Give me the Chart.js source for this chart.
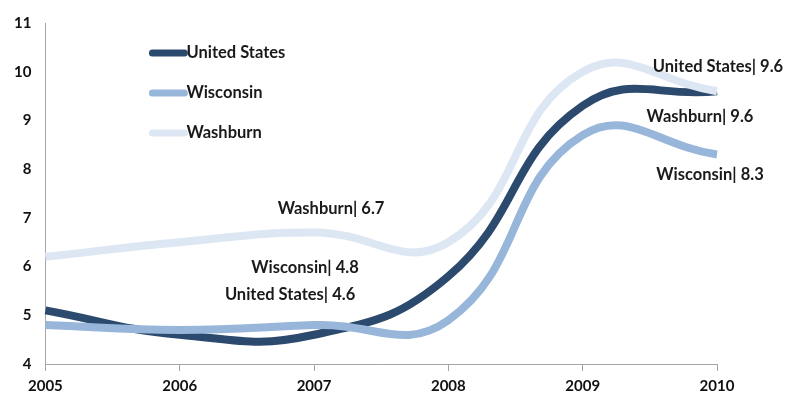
<!DOCTYPE html>
<html>
<head>
<meta charset="utf-8">
<script src="https://cdn.jsdelivr.net/npm/chart.js@4.4.1/dist/chart.umd.min.js"></script>
<style>
    html, body { margin: 0; padding: 0; background: #fff; }
    #wrap { width: 787px; height: 401px; }
</style>
</head>
<body>
<div id="wrap"><canvas id="unemploymentChart"></canvas></div>
<script>
// unemployment rate, 2005-2010
const years = ['2005', '2006', '2007', '2008', '2009', '2010'];
const seriesNames = ['United States', 'Wisconsin', 'Washburn'];
const unitedStates = [5.1, 4.6, 4.6, 5.8, 9.3, 9.6];
const wisconsin = [4.8, 4.7, 4.8, 4.9, 8.7, 8.3];
const washburn = [6.2, 6.5, 6.7, 6.5, 10.0, 9.6];
const yTicks = [4, 5, 6, 7, 8, 9, 10, 11];

const colors = ['#2c4a6d', '#98b6da', '#dde7f3'];
const FONT = 'Lato, "Liberation Sans", sans-serif';

// which labels to show: [dataset index, year index, dx, dy]
const valueLabels = [
    [2, 2, 17, -24],
    [1, 2, -9, -57],
    [0, 2, -24, -40],
    [0, 5, 1, -25],
    [2, 5, -17, 25],
    [1, 5, -7, 20]
];

const labelPlugin = {
    id: 'labelPlugin',
    afterDatasetsDraw(chart) {
        const ctx = chart.ctx;
        const x = chart.scales.x;
        const y = chart.scales.y;
        ctx.save();
        ctx.font = 'bold 16.5px ' + FONT;
        ctx.fillStyle = '#1a1a1a';
        ctx.textAlign = 'center';
        ctx.textBaseline = 'middle';
        valueLabels.forEach(([d, i, dx, dy]) => {
            const ds = chart.data.datasets[d];
            const text = ds.label + '| ' + ds.data[i].toFixed(1);
            const px = x.getPixelForValue(i) + dx;
            const py = y.getPixelForValue(ds.data[i]) + dy;
            const w = ctx.measureText(text).width;
            ctx.fillText(text, Math.min(px, chart.width - w / 2 - 1), py);
        });

        // legend inside the plot
        const lx = x.left + 107;
        ctx.textAlign = 'left';
        ctx.lineCap = 'round';
        seriesNames.forEach((name, k) => {
            const ly = chart.chartArea.top + 30 + k * 40;
            ctx.strokeStyle = colors[k];
            ctx.lineWidth = 7;
            ctx.beginPath();
            ctx.moveTo(lx, ly);
            ctx.lineTo(lx + 32, ly);
            ctx.stroke();
            ctx.fillText(name, lx + 34, ly);
        });
        ctx.restore();
    }
};

const datasetList = [unitedStates, wisconsin, washburn].map((values, k) => ({
    label: seriesNames[k],
    data: values,
    borderColor: colors[k],
    backgroundColor: colors[k],
    borderWidth: 8,
    pointRadius: 0,
    tension: 0.45,
    order: 3 - k
}));

new Chart(document.getElementById('unemploymentChart'), {
    type: 'line',
    data: {
        labels: years,
        datasets: datasetList
    },
    options: {
        responsive: true,
        maintainAspectRatio: false,
        animation: false,
        layout: { padding: { top: 5, right: 70, bottom: 0, left: 0 } },
        plugins: {
            legend: { display: false },
            tooltip: { enabled: false }
        },
        scales: {
            x: {
                offset: false,
                border: { color: '#a6a6a6', width: 1 },
                grid: { drawOnChartArea: false, drawTicks: true, tickLength: 7, color: '#a6a6a6' },
                ticks: { color: '#111', font: { family: FONT, size: 15, weight: 'bold' }, padding: 6, maxRotation: 0 }
            },
            y: {
                min: yTicks[0],
                max: yTicks[yTicks.length - 1],
                afterBuildTicks(axis) {
                    axis.ticks = yTicks.map(v => ({ value: v }));
                },
                border: { color: '#a6a6a6', width: 1 },
                grid: { drawOnChartArea: false, drawTicks: false },
                ticks: { color: '#111', font: { family: FONT, size: 15, weight: 'bold' }, padding: 14 }
            }
        }
    },
    plugins: [labelPlugin]
});
</script>
</body>
</html>
